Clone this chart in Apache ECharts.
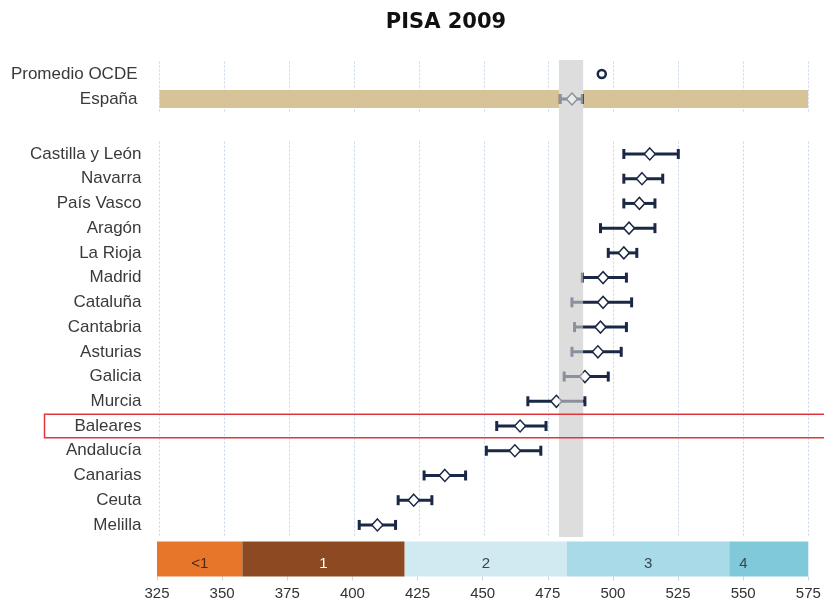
<!DOCTYPE html>
<html>
<head>
<meta charset="utf-8">
<title>PISA 2009</title>
<script src="https://cdn.jsdelivr.net/npm/echarts@6/dist/echarts.min.js"></script>
<style>
  html, body { margin: 0; padding: 0; background: #fff; }
  #main { width: 824px; height: 603px; }
</style>
</head>
<body>
<div id="main"></div>
<script>
// filas de referencia (arriba)
const refNames = ['Promedio OCDE', 'España'];
const ocdeMean = 495.5;
const spainMean = 484;
const spainLow = 479.5;
const spainHigh = 488;

// comunidades autónomas: media e intervalo de confianza
const regions = ['Castilla y León', 'Navarra', 'País Vasco', 'Aragón', 'La Rioja', 'Madrid',
  'Cataluña', 'Cantabria', 'Asturias', 'Galicia', 'Murcia', 'Baleares', 'Andalucía',
  'Canarias', 'Ceuta', 'Melilla'];
const regionMean = [514, 511, 510, 506, 504, 496, 496, 495, 494, 489, 478, 464, 462, 435, 423, 409];
const regionLow  = [504, 504, 504, 495, 498, 488, 484, 485, 484, 481, 467, 455, 451, 427, 417, 402];
const regionHigh = [525, 519, 516, 516, 509, 505, 507, 505, 503, 498, 489, 474, 472, 443, 430, 416];

// banda gris (IC de España)
const spainBand = [479, 488.3];

// niveles de rendimiento
const levelNames = ['<1', '1', '2', '3', '4'];
const levelCuts = [325, 357.77, 420.07, 482.38, 544.68, 575];
const levelColors = ['#e8762a', '#8d4a22', '#d1e9f0', '#a9dae7', '#80c9db'];
const levelTextColors = ['#4a2a12', '#ffffff', '#3a4550', '#3a4550', '#3a4550'];

const xMin = 325, xMax = 575, xStep = 25;
const navy = '#1b2845';
const gridColor = '#c6d5ec';

const chart = echarts.init(document.getElementById('main'));

function renderBand(params, api) {
  const cs = params.coordSys;
  const p0 = api.coord([api.value(0), 0]);
  const p1 = api.coord([api.value(1), 0]);
  return {
    type: 'rect',
    shape: { x: p0[0], y: cs.y, width: p1[0] - p0[0], height: cs.height },
    style: { fill: params.seriesName === 'bandTop' ? 'rgba(221,221,221,0.58)' : '#dddddd' }
  };
}

function renderErrorBar(params, api) {
  const c = api.value(0);
  const lo = api.coord([api.value(1), c]);
  const hi = api.coord([api.value(2), c]);
  const h = 5;
  const st = { stroke: navy, lineWidth: 3 };
  return {
    type: 'group',
    children: [
      { type: 'line', shape: { x1: lo[0], y1: lo[1], x2: hi[0], y2: hi[1] }, style: st },
      { type: 'line', shape: { x1: lo[0], y1: lo[1] - h, x2: lo[0], y2: lo[1] + h }, style: st },
      { type: 'line', shape: { x1: hi[0], y1: hi[1] - h, x2: hi[0], y2: hi[1] + h }, style: st }
    ]
  };
}

function renderLevel(params, api) {
  const cs = params.coordSys;
  const i = api.value(2);
  const p0 = api.coord([api.value(0), 0]);
  const p1 = api.coord([api.value(1), 0]);
  const tx = i === levelNames.length - 1 ? p0[0] + 14 : (p0[0] + p1[0]) / 2;
  return {
    type: 'group',
    children: [
      { type: 'rect', shape: { x: p0[0], y: cs.y, width: p1[0] - p0[0], height: cs.height },
        style: { fill: levelColors[i] } },
      { type: 'text', x: tx, y: cs.y + cs.height * 0.64,
        style: { text: levelNames[i], fill: levelTextColors[i], font: '15px "Liberation Sans", Arial, sans-serif',
          align: 'center', verticalAlign: 'middle' } }
    ]
  };
}

const hiddenX = { type: 'value', min: xMin, max: xMax, show: false };
const gridX = {
  type: 'value', min: xMin, max: xMax, interval: xStep,
  axisLine: { show: false }, axisTick: { show: false }, axisLabel: { show: false },
  splitLine: { show: true, lineStyle: { color: gridColor, type: [2, 2], width: 1 } }
};
const catY = (data, margin) => ({
  type: 'category', data: data, inverse: true,
  axisLine: { show: false }, axisTick: { show: false },
  axisLabel: { color: '#3a3a3a', fontSize: 17, margin: margin, fontFamily: '"Liberation Sans", Arial, sans-serif' }
});

const option = {
  backgroundColor: '#ffffff',
  animation: false,
  title: {
    text: 'PISA 2009', left: 441, top: 7, textAlign: 'center',
    textStyle: { fontSize: 21, fontWeight: 'bold', color: '#111', fontFamily: '"DejaVu Sans", sans-serif' }
  },
  grid: [
    { left: 159.5, right: 16, top: 60, bottom: 66 },       // fondo para la banda gris
    { left: 159.5, right: 16, top: 61.5, height: 50 },     // OCDE / España
    { left: 159.5, right: 16, top: 141.6, height: 395.7 }, // comunidades
    { left: 157, right: 15.7, top: 541.5, height: 35 }     // niveles
  ],
  xAxis: [
    Object.assign({ gridIndex: 0 }, hiddenX),
    Object.assign({ gridIndex: 1 }, gridX),
    Object.assign({ gridIndex: 2 }, gridX),
    {
      gridIndex: 3, type: 'value', min: xMin, max: xMax, interval: xStep,
      axisLine: { show: false },
      axisTick: { show: true, length: 4, lineStyle: { color: gridColor } },
      axisLabel: { color: '#333', fontSize: 15, margin: 10, fontFamily: '"Liberation Sans", Arial, sans-serif' },
      splitLine: { show: false }
    }
  ],
  yAxis: [
    { gridIndex: 0, type: 'value', min: 0, max: 1, show: false },
    Object.assign({ gridIndex: 1 }, catY(refNames, 22)),
    Object.assign({ gridIndex: 2 }, catY(regions, 18)),
    { gridIndex: 3, type: 'value', min: 0, max: 1, show: false }
  ],
  series: [
    {
      name: 'España fondo', type: 'bar', xAxisIndex: 1, yAxisIndex: 1, z: 1,
      barWidth: 18, itemStyle: { color: '#d6c397' }, silent: true,
      data: ['-', xMax]
    },
    {
      name: 'band', type: 'custom', xAxisIndex: 0, yAxisIndex: 0, z: 2, silent: true,
      renderItem: renderBand, encode: { x: [0, 1] }, data: [spainBand]
    },
    {
      name: 'IC España', type: 'custom', xAxisIndex: 1, yAxisIndex: 1, z: 3,
      renderItem: renderErrorBar, encode: { y: 0, x: [1, 2] },
      data: [[1, spainLow, spainHigh]]
    },
    {
      name: 'IC', type: 'custom', xAxisIndex: 2, yAxisIndex: 2, z: 3,
      renderItem: renderErrorBar, encode: { y: 0, x: [1, 2] },
      data: regions.map((r, i) => [i, regionLow[i], regionHigh[i]])
    },
    {
      name: 'España', type: 'scatter', xAxisIndex: 1, yAxisIndex: 1, z: 4,
      symbol: 'diamond', symbolSize: [11, 12],
      itemStyle: { color: '#fff', borderColor: navy, borderWidth: 1.5, opacity: 1 },
      data: [[spainMean, 1]]
    },
    {
      name: 'OCDE', type: 'scatter', xAxisIndex: 1, yAxisIndex: 1, z: 4,
      symbol: 'circle', symbolSize: 8,
      itemStyle: { color: '#fff', borderColor: navy, borderWidth: 2.5, opacity: 1 },
      data: [[ocdeMean, 0]]
    },
    {
      name: 'Media', type: 'scatter', xAxisIndex: 2, yAxisIndex: 2, z: 4,
      symbol: 'diamond', symbolSize: [11, 12],
      itemStyle: { color: '#fff', borderColor: navy, borderWidth: 1.5, opacity: 1 },
      data: regionMean.map((v, i) => [v, i])
    },
    {
      name: 'bandTop', type: 'custom', xAxisIndex: 0, yAxisIndex: 0, z: 5, silent: true,
      renderItem: renderBand, encode: { x: [0, 1] }, data: [spainBand]
    },
    {
      name: 'Niveles', type: 'custom', xAxisIndex: 3, yAxisIndex: 3, z: 2, silent: true,
      renderItem: renderLevel, encode: { x: [0, 1] },
      data: levelNames.map((n, i) => [levelCuts[i], levelCuts[i + 1], i])
    }
  ]
};

option && chart.setOption(option);

// recuadro rojo alrededor de Baleares
const yBal = chart.convertToPixel({ yAxisIndex: 2 }, 'Baleares');
chart.setOption({
  graphic: [{
    type: 'rect', z: 100, silent: true,
    shape: { x: 44.5, y: yBal - 11.7, width: 790, height: 23.4 },
    style: { fill: 'none', stroke: '#e3343c', lineWidth: 1.5 }
  }]
});
</script>
</body>
</html>
